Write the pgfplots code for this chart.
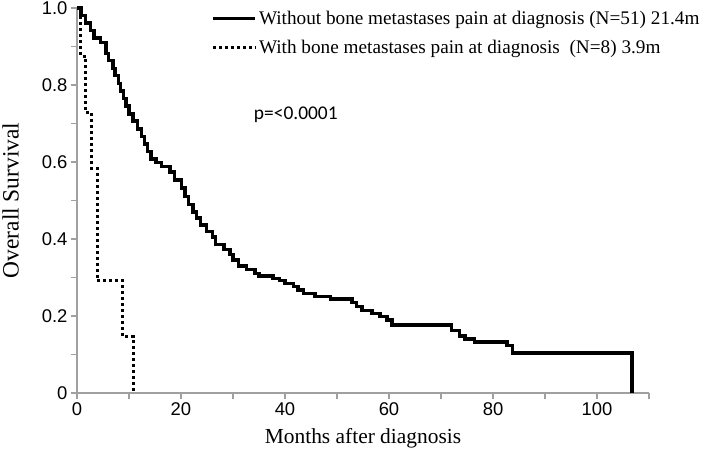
\documentclass[border=0pt]{standalone}
\usepackage{fontspec}
\setmainfont{Liberation Serif}
\newfontfamily\helv{Liberation Sans}
\newfontfamily\calib{Carlito}
\usepackage{pgfplots}
\pgfplotsset{compat=1.18}
\definecolor{axgray}{HTML}{A0A0A0}
\begin{document}
\begin{tikzpicture}[x=1bp,y=1bp]
\useasboundingbox (-77bp,-67bp) rectangle (632bp,393bp);
\begin{axis}[
  at={(0,0)}, anchor=south west,
  scale only axis, width=572bp, height=385bp,
  xmin=0, xmax=110, ymin=0, ymax=1.0,
  axis lines=left, axis line style={axgray, line width=1.2pt, -},
  xtick={0,20,...,100}, minor xtick={10,30,...,110},
  ytick={0,0.2,...,1.0}, minor ytick={0.1,0.3,...,0.9},
  yticklabels={0,0.2,0.4,0.6,0.8,1.0},
  tick style={axgray, line width=1.2pt},
  major tick length=6bp, minor tick length=6bp,
  tick align=outside,
  /pgf/number format/assume math mode=true,
  tick label style={font=\helv\fontsize{18.5}{18.5}\selectfont},
  xlabel={Months after diagnosis}, ylabel={Overall Survival},
  xlabel style={font=\fontsize{21.5}{21.5}\selectfont, at={(axis description cs:0.5,-0.117)}, anchor=center},
  ylabel style={font=\fontsize{23.5}{23.5}\selectfont, at={(axis description cs:-0.116,0.5)}, anchor=center},
  legend style={at={(rel axis cs:0.235,0.997)}, anchor=north west, draw=none, fill=none,
    font=\fontsize{19.3}{19.3}\selectfont, row sep=10bp, inner sep=0pt},
  legend cell align=left,
  legend image code/.code={\path (0bp,0bp) -- (42bp,0bp); \draw[#1] (0bp,0bp) -- (34bp,0bp);},
  clip=false,
]
\addplot[const plot, black, line width=3.4pt] coordinates {
(0,1.0) (0.8,0.980) (1.6,0.961) (2.6,0.941) (3.3,0.922) (4.5,0.910) (5.6,0.882)
(6.1,0.863) (6.9,0.843) (7.3,0.824) (8.0,0.804) (8.4,0.784) (8.9,0.765) (9.4,0.745)
(10.0,0.725) (10.8,0.706) (11.6,0.686) (12.4,0.667) (13.0,0.647) (13.6,0.627)
(14.2,0.608) (15.2,0.598) (16.3,0.588) (17.9,0.574) (18.8,0.553) (20.1,0.532)
(20.8,0.511) (21.4,0.490) (22.3,0.470) (23.0,0.455) (23.7,0.436) (24.9,0.419)
(26.0,0.405) (26.6,0.386) (28.3,0.373) (29.4,0.360) (30.0,0.345) (31.0,0.330)
(32.6,0.320) (34.2,0.311) (35.0,0.304) (37.7,0.298) (39.0,0.292) (40.0,0.285)
(41.6,0.276) (42.5,0.268) (43.5,0.258) (45.8,0.250) (48.7,0.244) (52.9,0.235)
(53.8,0.224) (54.8,0.215) (56.7,0.207) (58.3,0.199) (59.6,0.190) (60.6,0.177)
(72.0,0.163) (73.5,0.148) (74.6,0.140) (76.5,0.132) (82.7,0.124) (83.7,0.104)
(106.7,0.0)
};
\addlegendentry{Without bone metastases pain at diagnosis (N=51) 21.4m}
\addplot[const plot, black, line width=3pt, dash pattern=on 3pt off 3pt] coordinates {
(0,1.0) (0.7,0.875) (1.7,0.729) (2.8,0.583) (3.9,0.292) (8.8,0.146) (10.8,0.0)
};
\addlegendentry{With bone metastases pain at diagnosis \ (N=8) 3.9m}
\node[anchor=west, font=\calib\fontsize{19.5}{19.5}\selectfont, inner sep=0pt] at (axis cs:34.0,0.722) {p=<0.0001};
\end{axis}
\end{tikzpicture}
\end{document}
